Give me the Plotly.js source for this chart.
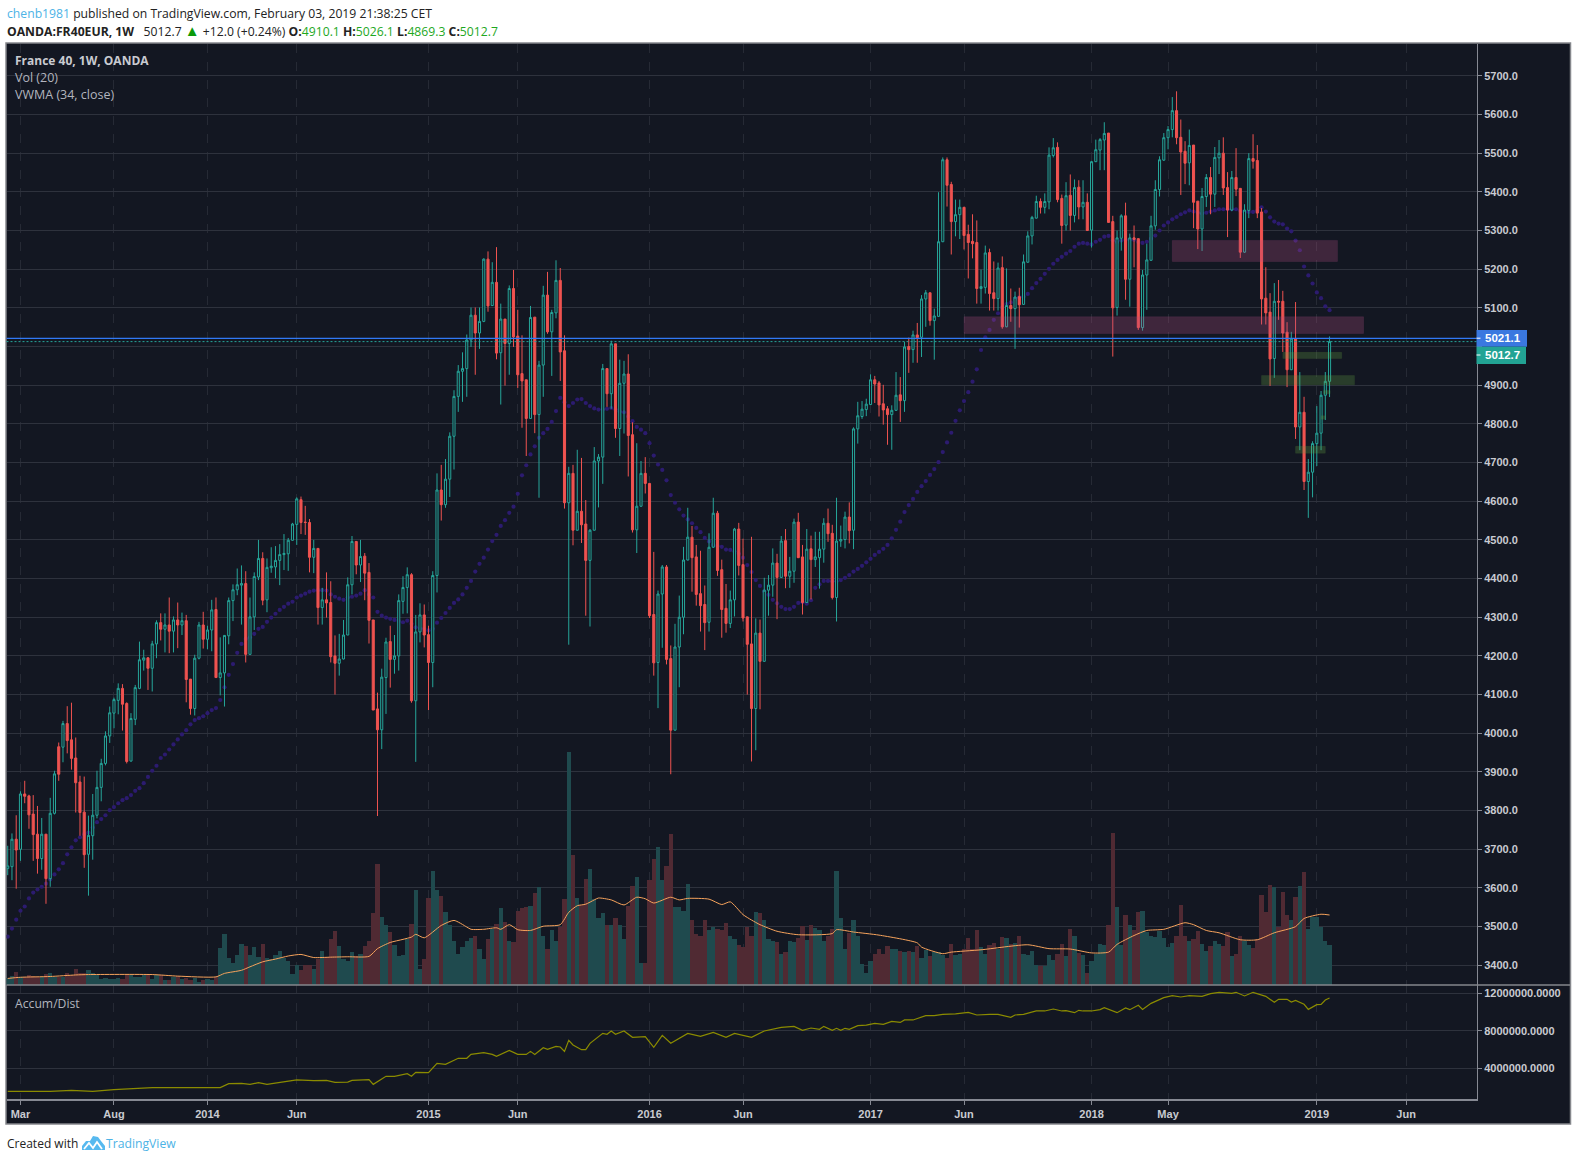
<!DOCTYPE html>
<html>
<head>
<meta charset="utf-8">
<script src="https://cdn.plot.ly/plotly-3.0.1.min.js"></script>
<style>html,body{margin:0;padding:0;background:#fff}#chart{width:1577px;height:1161px}</style>
</head>
<body>
<div id="chart"></div>
<script>
const firstWeek = '2013-02-11';
const open = [
3650,3655,3726,3700,3843,3838,3791,3739,3676,3739,
3624,3793,3965,3964,4025,3983,3936,3874,3796,3687,
3735,3788,3860,3922,3993,4052,4085,4116,4077,3928,
4036,4116,4189,4195,4168,4231,4286,4269,4280,4264,
4293,4280,4291,4140,4064,4194,4280,4243,4267,4320,
4144,4156,4252,4343,4371,4383,4387,4204,4301,4404,
4452,4345,4428,4430,4447,4462,4464,4499,4540,4604,
4546,4545,4455,4478,4325,4345,4338,4200,4181,4192,
4254,4384,4496,4435,4458,4416,4293,4063,4009,4144,
4237,4191,4200,4341,4377,4410,4084,4262,4306,4255,
4183,4408,4629,4591,4657,4768,4871,4936,4943,5017,
5081,5035,5065,5226,5106,5166,4984,5071,5008,5150,
5027,4930,4914,4814,5076,4824,4952,5133,5038,5087,
5171,4989,4596,4672,4525,4574,4541,4447,4525,4704,
4714,4943,4878,5007,4788,4905,4929,4772,4526,4587,
4672,4646,4307,4183,4360,4430,4193,4008,4223,4300,
4448,4507,4456,4361,4333,4287,4481,4569,4423,4323,
4284,4345,4528,4436,4301,4231,4064,4259,4186,4370,
4383,4440,4403,4498,4406,4419,4546,4456,4338,4477,
4449,4454,4476,4543,4517,4351,4497,4501,4559,4525,
4787,4819,4837,4850,4914,4906,4852,4839,4824,4835,
4875,4860,5000,4992,5030,5024,5123,5139,5067,5078,
5271,5483,5419,5323,5341,5360,5290,5272,5269,5150,
5153,5243,5139,5124,5204,5051,5106,5098,5129,5109,
5218,5286,5332,5375,5360,5374,5494,5515,5383,5314,
5391,5339,5412,5361,5373,5301,5478,5508,5534,5552,
5323,5101,5280,5338,5174,5281,5279,5049,5185,5223,
5312,5406,5482,5540,5561,5610,5541,5505,5475,5521,
5376,5304,5388,5437,5394,5488,5500,5411,5353,5437,
5409,5244,5352,5486,5481,5348,5125,5089,4969,5117,
5117,5037,4940,5020,4792,4830,4651,4675,4749,4776,
4874,4910];
const close = [
3657,3726,3698,3843,3837,3789,3738,3676,3739,3624,
3793,3895,3894,4025,3981,3935,3872,3795,3686,3736,
3788,3860,3922,3993,4053,4087,4116,4075,3927,4038,
4118,4190,4195,4168,4231,4286,4269,4280,4264,4293,
4280,4291,4139,4064,4194,4280,4243,4267,4319,4144,
4156,4253,4343,4371,4384,4387,4204,4301,4405,4452,
4344,4429,4432,4447,4462,4465,4499,4541,4606,4545,
4545,4455,4478,4325,4345,4337,4198,4181,4192,4254,
4384,4496,4435,4457,4414,4292,4060,4009,4145,4236,
4191,4200,4343,4377,4410,4084,4262,4306,4254,4183,
4408,4629,4591,4657,4768,4871,4936,4943,5017,5081,
5035,5065,5226,5105,5166,4983,5071,5008,5150,5025,
4927,4911,4814,5075,4824,4952,5133,5038,5088,5171,
4986,4596,4672,4525,4574,4539,4447,4525,4704,4714,
4943,4878,5007,4788,4905,4929,4770,4526,4587,4672,
4646,4304,4182,4360,4430,4191,4008,4223,4300,4448,
4507,4454,4359,4330,4286,4481,4569,4421,4320,4284,
4345,4528,4434,4298,4230,4064,4259,4186,4370,4383,
4440,4403,4497,4406,4419,4546,4454,4338,4476,4449,
4456,4476,4543,4516,4351,4497,4501,4559,4524,4787,
4821,4838,4851,4914,4903,4849,4836,4824,4835,4874,
4860,4999,4992,5030,5023,5123,5139,5067,5079,5271,
5483,5417,5323,5341,5360,5287,5269,5266,5150,5155,
5242,5137,5124,5203,5051,5106,5098,5128,5108,5219,
5286,5334,5375,5360,5375,5495,5514,5380,5313,5390,
5339,5411,5361,5373,5300,5478,5509,5535,5551,5321,
5100,5281,5338,5174,5281,5277,5049,5185,5224,5312,
5406,5483,5540,5561,5610,5540,5503,5474,5520,5373,
5304,5388,5437,5394,5489,5500,5410,5353,5437,5407,
5244,5353,5486,5479,5345,5123,5087,4968,5117,5115,
5035,4940,5020,4792,4830,4651,4675,4749,4776,4874,
4910,5012.7];
const high = [
3709,3741,3788,3850,3877,3841,3840,3812,3781,3739,
3833,3903,3976,4032,4070,4079,3989,3890,3888,3787,
3843,3903,3934,4005,4069,4092,4129,4127,4080,4052,
4125,4237,4216,4197,4239,4292,4310,4310,4351,4302,
4338,4312,4306,4140,4203,4288,4314,4278,4345,4351,
4248,4254,4351,4385,4426,4434,4419,4351,4416,4500,
4468,4452,4481,4484,4489,4515,4505,4544,4610,4612,
4588,4554,4500,4478,4376,4416,4393,4253,4257,4293,
4403,4510,4496,4500,4466,4440,4293,4105,4167,4247,
4278,4254,4359,4406,4429,4414,4306,4336,4333,4278,
4419,4672,4694,4709,4778,4887,4952,4985,5031,5101,
5101,5101,5228,5246,5218,5257,5111,5071,5158,5198,
5095,5029,4914,5105,5076,4963,5157,5193,5095,5223,
5203,5029,4689,4694,4733,4712,4603,4528,4740,4722,
4955,4943,5015,5007,4966,4963,4980,4804,4750,4704,
4714,4646,4469,4369,4435,4435,4227,4283,4356,4482,
4583,4536,4487,4472,4382,4517,4609,4575,4449,4386,
4369,4531,4544,4503,4301,4508,4297,4294,4402,4409,
4478,4464,4510,4528,4456,4555,4570,4487,4528,4511,
4521,4521,4556,4581,4539,4609,4537,4573,4597,4791,
4857,4859,4865,4928,4924,4911,4901,4846,4848,4934,
4921,5012,5023,5041,5061,5133,5146,5139,5098,5399,
5489,5489,5426,5380,5380,5360,5315,5342,5326,5199,
5261,5253,5220,5217,5233,5202,5150,5142,5152,5238,
5298,5338,5390,5383,5396,5515,5539,5528,5393,5425,
5445,5432,5430,5430,5396,5480,5535,5539,5580,5552,
5338,5300,5342,5372,5292,5313,5279,5198,5266,5338,
5430,5492,5552,5570,5645,5660,5587,5531,5561,5521,
5376,5410,5446,5464,5516,5534,5541,5451,5454,5513,
5409,5368,5500,5549,5521,5358,5205,5138,5164,5172,
5144,5063,5038,5115,4934,4870,4709,4755,4846,4885,
4934,5026.1];
const low = [
3633,3620,3598,3670,3819,3753,3670,3637,3647,3559,
3603,3790,3877,3925,3948,3906,3795,3735,3652,3580,
3673,3780,3824,3917,3975,4013,4049,4007,3922,3927,
4021,4114,4162,4112,4108,4194,4240,4209,4207,4209,
4220,4254,4080,4048,4046,4191,4219,4217,4212,4144,
4098,4069,4230,4290,4357,4281,4183,4204,4267,4396,
4331,4313,4415,4401,4383,4422,4420,4498,4487,4515,
4513,4416,4414,4281,4281,4299,4183,4100,4149,4191,
4254,4359,4411,4391,4344,4232,4060,3786,3959,4050,
4118,4154,4162,4309,4310,4079,3926,4235,4222,4060,
4119,4364,4550,4583,4611,4682,4831,4857,4870,4999,
4927,4994,5063,5090,5105,4967,4850,4899,4927,4999,
4893,4790,4717,4813,4776,4609,4870,5033,4924,5073,
4911,4581,4229,4486,4524,4492,4304,4276,4524,4584,
4645,4844,4839,4764,4717,4775,4664,4519,4466,4586,
4620,4298,4149,4065,4221,4178,3894,4007,4119,4256,
4447,4366,4330,4263,4215,4263,4480,4407,4247,4260,
4272,4302,4408,4289,4100,3927,3956,4062,4185,4304,
4353,4295,4402,4375,4376,4389,4453,4307,4337,4346,
4430,4374,4441,4495,4346,4289,4482,4478,4491,4476,
4749,4813,4820,4849,4854,4819,4798,4746,4733,4834,
4805,4831,4932,4958,4958,4973,5051,5054,4966,5077,
5270,5362,5238,5285,5278,5251,5176,5228,5111,5111,
5137,5093,5093,5093,5046,5050,5064,4994,5049,5108,
5217,5264,5331,5344,5344,5355,5489,5373,5266,5300,
5300,5321,5329,5329,5299,5256,5477,5456,5456,5320,
4974,5080,5248,5121,5103,5205,5043,5041,5095,5222,
5302,5388,5480,5510,5541,5523,5392,5420,5417,5306,
5252,5247,5361,5342,5361,5446,5392,5283,5350,5389,
5229,5242,5332,5460,5332,5057,5057,4898,4919,5069,
4986,4895,4939,4761,4732,4629,4557,4610,4691,4732,
4810,4869.3];
const vwma = [
3474,3495,3518,3541,3552,3573,3588,3596,3603,3611,
3622,3635,3648,3664,3687,3705,3723,3731,3739,3743,
3756,3770,3778,3788,3801,3809,3819,3827,3832,3840,
3851,3858,3871,3887,3903,3916,3936,3945,3958,3971,
3984,3997,4008,4023,4034,4039,4044,4052,4060,4065,
4086,4119,4151,4179,4208,4231,4244,4248,4257,4270,
4275,4288,4299,4309,4319,4327,4335,4340,4351,4356,
4361,4366,4369,4370,4370,4369,4359,4353,4348,4345,
4351,4353,4356,4361,4370,4359,4351,4314,4304,4299,
4296,4293,4290,4287,4291,4283,4274,4270,4270,4266,
4270,4286,4298,4311,4324,4337,4346,4359,4376,4394,
4418,4438,4454,4475,4497,4513,4536,4551,4570,4586,
4619,4667,4693,4721,4742,4764,4776,4787,4805,4833,
4867,4856,4846,4854,4863,4864,4854,4846,4840,4837,
4837,4839,4841,4837,4832,4830,4819,4807,4792,4785,
4776,4750,4718,4695,4681,4654,4616,4596,4579,4563,
4553,4543,4531,4520,4505,4496,4487,4484,4482,4475,
4474,4470,4464,4454,4435,4417,4396,4381,4367,4358,
4345,4336,4327,4321,4321,4327,4337,4339,4335,4344,
4376,4385,4394,4394,4393,4393,4396,4402,4409,4418,
4425,4433,4442,4451,4461,4469,4477,4487,4504,4526,
4547,4572,4590,4606,4624,4639,4652,4668,4683,4701,
4727,4752,4777,4808,4835,4859,4882,4909,4941,4991,
5024,5043,5069,5086,5101,5110,5114,5123,5127,5129,
5136,5151,5164,5175,5188,5201,5214,5224,5232,5240,
5247,5258,5266,5268,5266,5264,5271,5276,5284,5286,
5274,5270,5274,5276,5276,5276,5270,5268,5271,5279,
5287,5300,5313,5321,5329,5335,5342,5347,5352,5349,
5346,5344,5346,5349,5352,5355,5355,5355,5355,5355,
5351,5348,5348,5348,5351,5360,5349,5334,5323,5318,
5316,5305,5298,5274,5249,5207,5184,5163,5140,5125,
5104,5094];
const volume = [
18,23,33,20,20,26,23,21,20,28,
31,20,20,20,31,27,42,30,32,39,
32,27,16,18,16,16,18,16,27,25,
21,21,27,26,16,27,25,13,13,20,
23,15,18,13,18,7,13,15,13,21,
95,131,69,56,77,105,100,77,97,72,
105,69,67,77,87,69,62,28,51,38,
51,51,41,67,87,72,118,139,100,67,
62,85,74,80,100,113,187,313,177,154,
136,103,74,77,118,159,246,41,67,226,
295,246,231,190,156,115,80,97,113,121,
128,92,67,118,144,159,198,162,115,110,
192,200,203,205,239,254,126,92,141,113,
149,223,603,336,226,208,274,300,222,172,
187,156,156,172,154,120,205,256,278,57,
57,272,325,356,271,308,391,201,203,192,
261,167,131,128,168,141,150,145,141,160,
128,120,103,98,150,128,190,186,169,120,
115,111,80,85,113,111,121,153,117,156,
148,143,114,126,146,295,174,94,135,169,
126,54,31,63,80,94,81,100,94,94,
87,85,87,85,102,71,90,74,85,85,
77,71,107,77,81,94,122,94,143,97,
80,104,108,94,123,122,107,109,126,80,
77,87,51,50,50,77,64,81,107,74,
145,126,83,77,30,63,80,107,103,156,
392,203,103,180,154,141,190,192,137,128,
124,139,121,98,109,126,208,128,115,120,
139,105,88,100,113,107,100,136,74,81,
128,114,103,96,120,233,190,259,254,150,
241,182,167,228,257,292,146,175,175,150,
113,103];
const volMaWeek = [0,3,10,16,19,34,40,49,51,55,57,60,63,66,69,72,76,80,85,87,90,93,95,96,98,102,105,108,109,112,115,116,118,120,123,126,130,132,134,136,138,139,142,145,148,150,152,156,158,160,165,168,170,173,175,177,181,186,194,195,199,205,214,215,220,222,229,240,245,250,255,259,261,265,268,272,277,279,282,285,290,294,298,303,305,309,311];
const volMa = [17,20,22,26,27,27,23,21,30,38,47,60,67,75,79,71,72,73,74,94,110,118,124,131,122,154,167,150,144,144,148,144,156,143,141,152,156,188,205,209,220,225,220,207,227,223,212,227,220,224,222,208,215,182,168,156,139,130,133,143,137,129,109,98,81,85,91,104,94,93,83,85,105,128,141,144,161,156,141,135,117,117,135,151,172,183,181];
const adWeek = [0,10,15,20,25,31,34,43,50,52,55,57,59,61,64,68,72,75,77,80,81,85,86,89,91,94,95,96,99,101,103,106,108,109,112,114,115,118,120,122,123,124,126,127,129,130,131,132,133,135,136,137,140,141,142,143,145,147,150,152,154,156,160,163,166,169,171,175,178,182,185,187,189,191,192,194,195,196,197,198,200,202,204,206,208,210,211,213,216,218,220,223,226,228,231,233,236,237,239,242,244,246,248,249,251,252,253,255,257,258,261,263,264,266,267,269,272,274,276,278,281,283,285,288,289,291,293,296,298,299,301,302,303,305,306,308,309,310,311];
const adMillions = [1.55,1.55,1.65,1.55,1.72,1.83,1.94,1.94,1.94,2.36,2.40,2.29,2.47,2.29,2.47,2.76,2.68,2.72,2.51,2.54,2.72,2.79,2.29,3.15,3.15,3.43,3.15,3.57,3.54,4.53,4.43,5.07,5.07,5.49,5.67,5.49,5.28,5.92,5.49,5.49,5.81,5.49,6.20,6.03,6.35,6.28,5.81,6.99,6.49,5.99,5.99,6.67,7.73,7.63,7.98,7.63,7.98,7.31,7.38,6.24,7.52,6.67,7.73,7.41,7.84,7.31,7.73,7.31,7.98,8.37,8.48,8.05,8.30,8.16,8.48,8.05,8.27,8.05,8.27,8.16,8.55,8.62,8.80,8.69,9.01,8.90,9.16,9.16,9.62,9.62,9.76,9.80,9.97,9.69,9.76,9.76,9.44,9.69,9.76,10.12,10.12,10.33,10.12,10.15,9.94,10.19,10.12,10.12,10.26,10.47,9.94,10.44,10.26,10.72,10.29,10.93,11.54,11.75,11.61,11.75,11.68,11.97,12.11,12.00,12.11,11.72,12.11,11.68,11.04,11.36,11.36,11.08,11.25,10.83,10.29,10.79,10.83,11.29,11.50];
const priceTicks = [3400,3500,3600,3700,3800,3900,4000,4100,4200,4300,4400,4500,4600,4700,4800,4900,5000,5100,5200,5300,5400,5500,5600,5700];
const priceTickLabels = ['3400.0','3500.0','3600.0','3700.0','3800.0','3900.0','4000.0','4100.0','4200.0','4300.0','4400.0','4500.0','4600.0','4700.0','4800.0','4900.0','','5100.0','5200.0','5300.0','5400.0','5500.0','5600.0','5700.0'];
const adTicks = [4000000,8000000,12000000];
const adTickLabels = ['4000000.0000','8000000.0000','12000000.0000'];
const timeTicks = ['2013-03-04','2013-08-05','2014-01-06','2014-06-02','2015-01-05','2015-06-01','2016-01-04','2016-06-06','2017-01-02','2017-06-05','2018-01-01','2018-05-07','2019-01-07','2019-06-03'];
const timeLabels = ['Mar','Aug','2014','Jun','2015','Jun','2016','Jun','2017','Jun','2018','May','2019','Jun'];
const lastPrice = 5012.7, otherLevel = 5021.1;

const W = 1577, H = 1161;
const px = x => x / W, py = y => 1 - y / H;
const PLOT_L = 6.5, PLOT_R = 1476.5, TOP = 43.5, MID = 985, BOT = 1099, PANEL_R = 1570.5, PANEL_B = 1124;
const BG = '#131722', UP = '#26a69a', DOWN = '#ef5350', GRID = '#2e323d', AXISC = '#868993', TXT = '#c9cbd1';
const UI = '"Open Sans","Noto Sans",sans-serif';
const TICKF = {family:'"Liberation Sans",Arial,sans-serif', size:11, color:TXT, weight:700};

const weeks = open.map((_, i) => new Date(Date.parse(firstWeek + 'T00:00:00Z') + i * 7 * 864e5).toISOString().slice(0, 10));
const pick = (idx, arr) => idx.map(i => arr[i]);
const volColors = open.map((o, i) => close[i] >= o ? '#1f4a4e' : '#502a33');

const PRICE_RANGE = [3349, 5783.6];
const VOL_RANGE = [0, PRICE_RANGE[1] - PRICE_RANGE[0]];
const mainDomain = [py(MID), py(TOP)], adDomain = [py(BOT), py(MID)];

const traces = [
  {type:'bar', x:weeks, y:volume, xaxis:'x', yaxis:'y', marker:{color:volColors, line:{width:0}}, hoverinfo:'skip'},
  {type:'scatter', mode:'lines', x:pick(volMaWeek, weeks), y:volMa, xaxis:'x', yaxis:'y', line:{color:'#f7a35c', width:1, shape:'spline', smoothing:0.6}, hoverinfo:'skip'},
  {type:'scatter', mode:'markers', x:weeks, y:vwma, xaxis:'x', yaxis:'y3', marker:{color:'#2c1b70', size:4.2}, hoverinfo:'skip'},
  {type:'candlestick', x:weeks, open, high, low, close, xaxis:'x', yaxis:'y4', whiskerwidth:0,
    increasing:{line:{color:UP, width:1}, fillcolor:BG}, decreasing:{line:{color:DOWN, width:1}, fillcolor:DOWN}, hoverinfo:'skip'},
  {type:'scatter', mode:'lines', x:pick(adWeek, weeks), y:adMillions.map(v => v * 1e6), xaxis:'x', yaxis:'y2', line:{color:'#8b8b00', width:1.2}, hoverinfo:'skip'}
];

const zone = (x0, x1, y0, y1, fill, border) => ({type:'rect', xref:'x', yref:'y4', x0, x1, y0, y1, fillcolor:fill, line:{color:border, width:1}, layer:'above'});
const PINK = 'rgba(180,80,130,0.28)', PINKB = 'rgba(190,90,150,0.12)', GREEN = 'rgba(100,160,70,0.28)', GREENB = 'rgba(100,160,70,0.10)';
const box = (x0, y0, x1, y1, color) => ({type:'rect', xref:'paper', yref:'paper', x0:px(x0), x1:px(x1), y0:py(y1), y1:py(y0), fillcolor:color, line:{width:0}, layer:'above'});
const hline = (x0, x1, y, color, width) => ({type:'line', xref:'paper', yref:'paper', x0:px(x0), x1:px(x1), y0:py(y), y1:py(y), line:{color, width}, layer:'above'});

const shapes = [
  {type:'rect', xref:'paper', yref:'paper', x0:px(6), x1:px(PANEL_R), y0:py(PANEL_B), y1:py(43), fillcolor:BG, line:{color:'#85878c', width:1.5}, layer:'below'},
  zone('2018-05-14','2019-02-10',5220,5274.5,PINK,PINKB),
  zone('2017-06-05','2019-03-25',5034,5077,PINK,PINKB),
  zone('2018-11-12','2019-02-17',4969,4985,GREEN,GREENB),
  zone('2018-10-08','2019-03-10',4901,4925,GREEN,GREENB),
  zone('2018-12-03','2019-01-21',4724,4742,GREEN,GREENB),
  zone('2019-01-18','2019-01-29',4878,4886,GREEN,GREENB),
  zone('2019-01-14','2019-01-21',4812,4821,GREEN,GREENB),
  {type:'line', xref:'paper', yref:'y4', x0:px(PLOT_L), x1:px(PLOT_R), y0:otherLevel, y1:otherLevel, line:{color:'#3179f5', width:1.2}, layer:'above'},
  {type:'line', xref:'paper', yref:'y4', x0:px(PLOT_L), x1:px(PLOT_R), y0:lastPrice, y1:lastPrice, line:{color:UP, width:1, dash:'2px,2px'}, layer:'above'},
  hline(PLOT_L, PANEL_R, MID, '#85878c', 1.5),
  box(PLOT_R, 330, 1527, 346.7, '#3a78e0'),
  box(PLOT_R, 346.7, 1526, 364, '#22a394'),
  hline(PLOT_R, PLOT_R + 4, 338.2, '#ffffff', 1),
  hline(PLOT_R, PLOT_R + 4, 355, '#ffffff', 1),
  // TradingView cloud mark
  {type:'path', xref:'paper', yref:'paper', layer:'above', fillcolor:'#57b9ef', line:{width:0},
    path:[[82,1150],[82,1146],[86,1141],[90,1141],[93,1136],[98,1137],[101,1141],[105,1146],[105,1150]].map((p, i) => (i ? 'L' : 'M') + px(p[0]) + ',' + py(p[1])).join(' ') + ' Z'},
  {type:'path', xref:'paper', yref:'paper', layer:'above', fillcolor:'rgba(0,0,0,0)', line:{color:'#ffffff', width:1.8},
    path:[[84,1149],[89,1143],[93,1148],[97,1142],[102,1149]].map((p, i) => (i ? 'L' : 'M') + px(p[0]) + ',' + py(p[1])).join(' ')}
];

const note = (x, y, text, size, color, extra) => Object.assign({xref:'paper', yref:'paper', x:px(x), y:py(y), text, showarrow:false,
  xanchor:'left', yanchor:'middle', font:{family:UI, size, color}, align:'left'}, extra || {});
const G = t => '<span style="color:#1ea81e">' + t + '</span>';
const TAGF = {font:{family:'"Liberation Sans",Arial,sans-serif', size:11.5, color:'#ffffff'}};
const annotations = [
  note(4.5, 13, '<span style="color:#4db3e6">chenb1981</span> published on TradingView.com, February 03, 2019 21:38:25 CET', 12.2, '#222222'),
  note(4.5, 30, '<b>OANDA:FR40EUR, 1W</b>   5012.7 <span style="color:#0a9a0a;font-size:15px">▲</span> +12.0 (+0.24%) <b>O:</b>' + G('4910.1') + ' <b>H:</b>' + G('5026.1') + ' <b>L:</b>' + G('4869.3') + ' <b>C:</b>' + G('5012.7'), 12.2, '#222222'),
  note(13, 60.7, '<b>France 40, 1W, OANDA</b>', 12, '#c9cbd1'),
  note(13, 77.5, 'Vol (20)', 12.5, '#b2b5be'),
  note(13, 94.5, 'VWMA (34, close)', 12.5, '#b2b5be'),
  note(13, 1003, 'Accum/Dist', 12.2, '#b2b5be'),
  note(1482.5, 338.3, '<b>5021.1</b>', 11.5, '#ffffff', TAGF),
  note(1482.5, 355.3, '<b>5012.7</b>', 11.5, '#ffffff', TAGF),
  note(4.5, 1143, 'Created with', 12, '#222222'),
  note(104, 1143, 'TradingView', 12.2, '#4db3e6')
];

const hiddenY = {visible:false, showgrid:false, zeroline:false, fixedrange:true};
const layout = {
  width:W, height:H, autosize:false, showlegend:false, dragmode:false, hovermode:false,
  paper_bgcolor:'#ffffff', plot_bgcolor:'rgba(0,0,0,0)',
  margin:{l:0, r:0, t:0, b:0, pad:0}, bargap:0,
  xaxis:{type:'date', domain:[px(PLOT_L), px(PLOT_R)], range:['2013-02-09','2019-09-27'], anchor:'y2',
    tickmode:'array', tickvals:timeTicks, ticktext:timeLabels, tickangle:0, tickfont:TICKF, ticks:'outside', ticklen:4, tickcolor:AXISC,
    showgrid:true, gridcolor:'#262a35', griddash:'dash', gridwidth:1, zeroline:false, showline:true, linecolor:AXISC, linewidth:1.5,
    rangeslider:{visible:false}, fixedrange:true},
  yaxis:Object.assign({domain:mainDomain, range:VOL_RANGE, anchor:'x'}, hiddenY),
  yaxis2:{domain:adDomain, range:[730000,12890000], anchor:'x', side:'right', tickmode:'array', tickvals:adTicks, ticktext:adTickLabels,
    tickfont:TICKF, ticks:'outside', ticklen:4, tickcolor:AXISC, showgrid:true, gridcolor:GRID, gridwidth:1, zeroline:false,
    showline:true, linecolor:AXISC, linewidth:1.5, fixedrange:true},
  yaxis3:Object.assign({overlaying:'y', range:PRICE_RANGE, anchor:'x'}, hiddenY),
  yaxis4:{overlaying:'y', side:'right', range:PRICE_RANGE, anchor:'x', tickmode:'array', tickvals:priceTicks, ticktext:priceTickLabels,
    tickfont:TICKF, ticks:'outside', ticklen:4, tickcolor:AXISC, showgrid:true, gridcolor:GRID, gridwidth:1, zeroline:false,
    showline:true, linecolor:AXISC, linewidth:1.5, fixedrange:true},
  shapes, annotations
};
Plotly.newPlot('chart', traces, layout, {staticPlot:true, displayModeBar:false});
</script>
</body>
</html>
